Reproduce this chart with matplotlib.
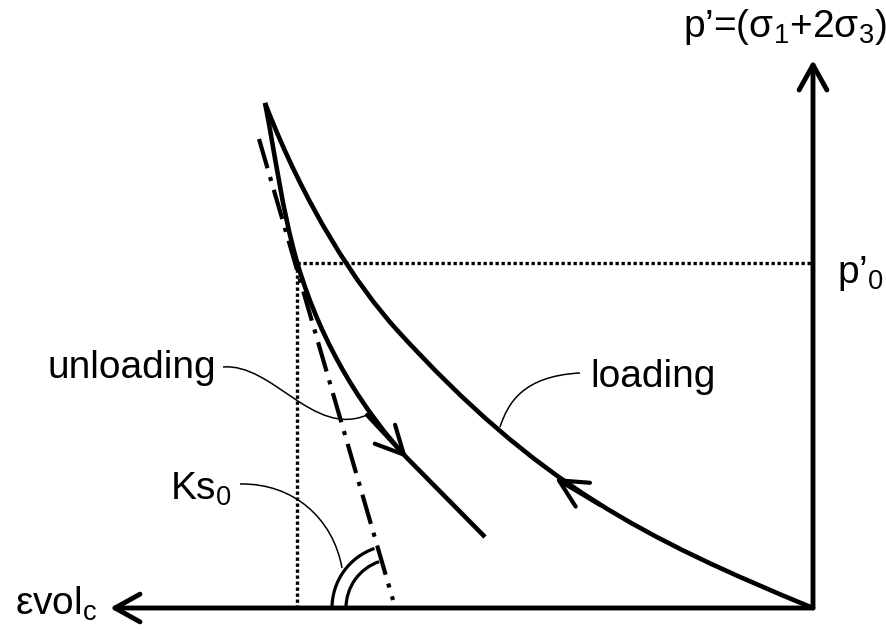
# Schematic: loading / unloading curves in the evol - p' plane
import matplotlib.pyplot as plt
from matplotlib.patches import Arc, PathPatch
from matplotlib.path import Path

plt.rcParams['font.family'] = ['Liberation Sans', 'DejaVu Sans']
plt.rcParams['mathtext.fontset'] = 'custom'
plt.rcParams['mathtext.rm'] = 'Liberation Sans'
plt.rcParams['mathtext.it'] = 'Liberation Sans'

# x = evol (grows to the left), y = p'
# loading curve: two cubic bezier pieces (start, ctrl, ctrl, end, ctrl, ctrl, end)
load_x = [0, 170, 276, 416, 456, 508, 548]
load_y = [0, 70, 124, 278, 322, 401, 505]

# unloading curve: two bezier pieces then a straight tail
unload_x = [548, 538, 531, 516, 491, 446, 406, 328]
unload_y = [505, 455, 398, 346, 260, 193, 150, 71]

# tangent Ks0 at p'0
tangent_x = [554, 420]
tangent_y = [469, 8]

p0 = 345
evol_p0 = 516

# arrow positions on the curves (tip, tail)
unload_arrow = [(406, 150), (446, 193)]
load_arrow = [(258, 130), (213, 103)]

# leader lines (cubic bezier: start, ctrl, ctrl, end)
lead_unload_x = [590, 540, 500, 446]
lead_unload_y = [241, 245, 170, 193]
lead_load_x = [313, 305, 290, 233]
lead_load_y = [181, 205, 232, 235]
lead_ks_x = [573, 520, 480, 471]
lead_ks_y = [124, 125, 90, 40]

fig = plt.figure(figsize=(8.86, 6.30), dpi=100)
ax = fig.add_axes([0, 0, 1, 1])
ax.set_xlim(813, -73)
ax.set_ylim(-22, 608)
ax.axis('off')


def bezier(xs, ys, lw, tail=False):
    verts = list(zip(xs, ys))
    codes = [Path.MOVETO] + [Path.CURVE4] * (len(verts) - 1 - (1 if tail else 0))
    if tail:
        codes.append(Path.LINETO)
    ax.add_patch(PathPatch(Path(verts, codes), fill=False, lw=lw,
                           edgecolor='black', joinstyle='round', capstyle='butt'))


# axes with arrows
axis_arrow = dict(arrowstyle='->,head_length=0.9,head_width=0.5', lw=3.5,
                  color='black', shrinkA=0, shrinkB=0, mutation_scale=20)
ax.annotate('', xy=(703, 0), xytext=(0, 0), arrowprops=axis_arrow)
ax.annotate('', xy=(0, 548), xytext=(0, 0), arrowprops=axis_arrow)

# curves
bezier(load_x, load_y, 3.3)
bezier(unload_x, unload_y, 3.3, tail=True)
ax.plot(tangent_x, tangent_y, color='black', lw=3.0,
        linestyle=(0, (7.3, 2.2, 1, 2.2)), dash_capstyle='butt')

# dotted p'0 lines
ax.plot([evol_p0, 0], [p0, p0], color='black', lw=2.4, linestyle=(0, (1, 0.8)))
ax.plot([evol_p0, evol_p0], [p0, 0], color='black', lw=2.4, linestyle=(0, (1, 0.8)))

# direction arrows on curves
curve_arrow = dict(arrowstyle='->,head_length=1.0,head_width=0.5', lw=3.0,
                   color='black', shrinkA=0, shrinkB=0, mutation_scale=20)
ax.annotate('', xy=unload_arrow[0], xytext=unload_arrow[1], arrowprops=curve_arrow)
ax.annotate('', xy=load_arrow[0], xytext=load_arrow[1], arrowprops=curve_arrow)

# Ks0 angle arcs
for r in (63, 49):
    ax.add_patch(Arc((418, 0), 2 * r, 2 * r, theta1=0, theta2=71, color='black', lw=2.3))

# leaders
bezier(lead_unload_x, lead_unload_y, 1.1)
bezier(lead_load_x, lead_load_y, 1.1)
bezier(lead_ks_x, lead_ks_y, 1.1)

# labels
fs = 28
ax.text(130, 571, "p’=(σ$_1$+2σ$_3$)", fontsize=fs, ha='left', va='baseline')
ax.text(-24, 325, "p’$_0$", fontsize=fs, ha='left', va='baseline')
ax.text(798, -7, "εvol$_c$", fontsize=fs, ha='left', va='baseline')
ax.text(765, 230, "unloading", fontsize=fs, ha='left', va='baseline')
ax.text(223, 221, "loading", fontsize=fs, ha='left', va='baseline')
ax.text(643, 108, "Ks$_0$", fontsize=fs, ha='left', va='baseline')

fig.savefig('out.png', dpi=100)
